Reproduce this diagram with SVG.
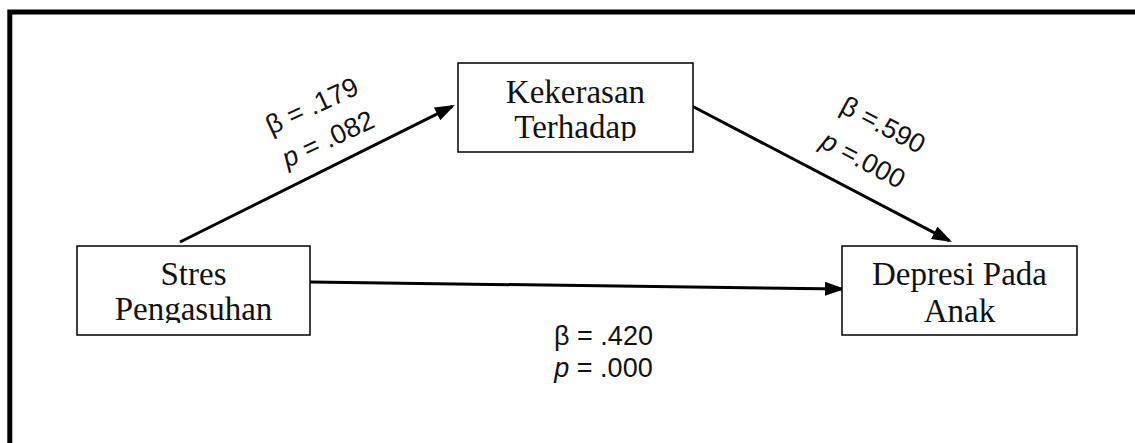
<svg xmlns="http://www.w3.org/2000/svg" width="1135" height="443" viewBox="0 0 1135 443">
  <style>
    .box { fill: #ffffff; stroke: #000000; stroke-width: 1.5; }
    .node { font-family: "Liberation Serif", "Times New Roman", serif; font-size: 33px; fill: #111111; text-anchor: middle; }
    .lbl { font-family: "Liberation Sans", Arial, sans-serif; font-size: 27px; fill: #111111; text-anchor: middle; }
    .conn { stroke: #000000; stroke-width: 3; fill: none; marker-end: url(#arrow); }
    .frame { stroke: #000000; stroke-width: 5; fill: none; }
  </style>
  <defs>
    <marker id="arrow" markerUnits="userSpaceOnUse" markerWidth="22" markerHeight="16" refX="17" refY="7" orient="auto">
      <path d="M0,0 L20,7 L0,14 Z" fill="#000000"/>
    </marker>
    <clipPath id="clipK"><rect x="458" y="63" width="235" height="78"/></clipPath>
    <clipPath id="clipS"><rect x="77" y="246" width="233" height="77"/></clipPath>
  </defs>
  <rect width="1135" height="443" fill="#ffffff"/>
  <path class="frame" d="M9.8,443 V12 H1135"/>

  <g id="connectors">
    <line class="conn" x1="180" y1="242" x2="452.3" y2="106.3"/>
    <line class="conn" x1="690" y1="105" x2="949.3" y2="240.6"/>
    <line class="conn" x1="310" y1="282" x2="842" y2="289"/>
  </g>

  <g id="node-kekerasan">
    <rect class="box" x="458" y="63" width="235" height="89"/>
    <g clip-path="url(#clipK)">
      <text class="node" x="575.5" y="103">Kekerasan</text>
      <text class="node" x="575.5" y="138">Terhadap</text>
    </g>
  </g>

  <g id="node-stres">
    <rect class="box" x="77" y="246" width="233" height="89"/>
    <g clip-path="url(#clipS)">
      <text class="node" x="193.5" y="285">Stres</text>
      <text class="node" x="193.5" y="320">Pengasuhan</text>
    </g>
  </g>

  <g id="node-depresi">
    <rect class="box" x="842" y="246" width="235" height="89"/>
    <text class="node" x="959.5" y="285">Depresi Pada</text>
    <text class="node" x="959.5" y="322">Anak</text>
  </g>

  <g id="labels">
    <g transform="translate(312,106) rotate(-25)">
      <text class="lbl" x="0" y="9">β = .179</text>
    </g>
    <g transform="translate(328,139) rotate(-25)">
      <text class="lbl" x="0" y="9"><tspan font-style="italic">p</tspan> = .082</text>
    </g>
    <g transform="translate(883,125) rotate(28)">
      <text class="lbl" x="0" y="9">β =.590</text>
    </g>
    <g transform="translate(863,160) rotate(28)">
      <text class="lbl" x="0" y="9"><tspan font-style="italic">p</tspan> =.000</text>
    </g>
    <text class="lbl" x="603.5" y="345">β = .420</text>
    <text class="lbl" x="603.5" y="377"><tspan font-style="italic">p</tspan> = .000</text>
  </g>
</svg>
